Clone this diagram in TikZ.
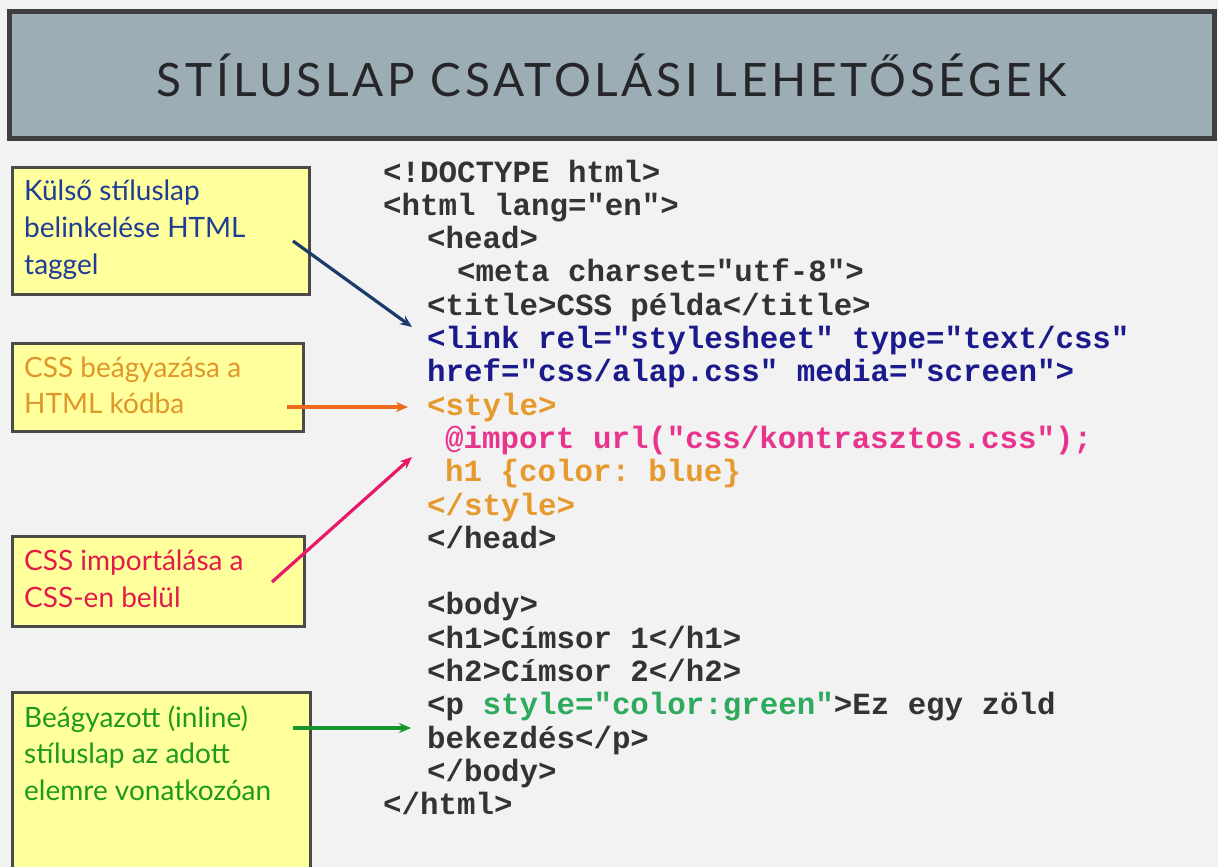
\documentclass[tikz,border=0pt]{standalone}
\usepackage{fontspec}
\setmainfont{Lato}
\newfontfamily\codefont{Liberation Mono}[BoldFont={* Bold}]
\newfontfamily\titlefont{Lato}[LetterSpace=8]
\usetikzlibrary{arrows.meta}
\frenchspacing
\definecolor{bgc}{HTML}{F2F2F2}
\definecolor{titlefill}{HTML}{9DADB5}
\definecolor{titleborder}{HTML}{3F3F3F}
\definecolor{titletext}{HTML}{26262A}
\definecolor{boxfill}{HTML}{FFFF9C}
\definecolor{boxborder}{HTML}{4A4A4A}
\definecolor{lblue}{HTML}{1F3C96}
\definecolor{lorange}{HTML}{E0962A}
\definecolor{lred}{HTML}{E21B4B}
\definecolor{lgreen}{HTML}{1E9A1E}
\definecolor{codedark}{HTML}{333333}
\definecolor{codenavy}{HTML}{1A1A8C}
\definecolor{codeorange}{HTML}{E69A2E}
\definecolor{codepink}{HTML}{E8348C}
\definecolor{codegreen}{HTML}{2EAA5E}
\definecolor{arrnavy}{HTML}{1B3B6B}
\definecolor{arrorange}{HTML}{EE6A1A}
\definecolor{arrpink}{HTML}{E8186A}
\definecolor{arrgreen}{HTML}{16962A}
\tikzset{
  labelbox/.style={draw=boxborder, line width=3pt, fill=boxfill, anchor=north west, inner sep=0pt},
  lbltext/.style={anchor=base west, inner sep=0pt, font=\fontsize{28}{32}\selectfont},
  codeline/.style={anchor=base west, inner sep=0pt, font=\codefont\bfseries\fontsize{30.8}{33}\selectfont, text=codedark},
  pointer/.style={line width=3.2pt, -{Stealth[length=12pt,width=10pt]}},
}
\begin{document}
\begin{tikzpicture}[x=1pt,y=-1pt]
\useasboundingbox (0,0) rectangle (1218,867);
\fill[bgc] (0,0) rectangle (1218,867);
% title
\node[draw=titleborder, line width=5pt, fill=titlefill, anchor=north west, minimum width=1205pt, minimum height=126pt, inner sep=0pt] (titlebox) at (6.5,9.5) {};
\node[inner sep=0pt, text=titletext, font=\titlefont\fontsize{46}{50}\selectfont] (title) at (titlebox.center) {STÍLUSLAP CSATOLÁSI LEHETŐSÉGEK};
% label boxes
\node[labelbox, minimum width=297pt, minimum height=127pt] (b1) at (10.5,165.5) {};
\node[lbltext, text=lblue] (t1a) at (24,200) {Külső stíluslap};
\node[lbltext, text=lblue] (t1b) at (24,237) {belinkelése HTML};
\node[lbltext, text=lblue] (t1c) at (24,274) {taggel};
\node[labelbox, minimum width=291pt, minimum height=88pt] (b2) at (10.5,341.5) {};
\node[lbltext, text=lorange] (t2a) at (24,377) {CSS beágyazása a};
\node[lbltext, text=lorange] (t2b) at (24,413) {HTML kódba};
\node[labelbox, minimum width=292pt, minimum height=90pt] (b3) at (10.5,534.5) {};
\node[lbltext, text=lred] (t3a) at (24,570) {CSS importálása a};
\node[lbltext, text=lred] (t3b) at (24,607) {CSS-en belül};
\node[labelbox, minimum width=298pt, minimum height=190pt] (b4) at (10.5,690.5) {};
\node[lbltext, text=lgreen] (t4a) at (24,727) {Beágyazott (inline)};
\node[lbltext, text=lgreen] (t4b) at (24,763) {stíluslap az adott};
\node[lbltext, text=lgreen] (t4c) at (24,800) {elemre vonatkozóan};
% code
\def\lh{33.3}
\node[codeline] (c0) at (383,182) {<!DOCTYPE html>};
\node[codeline] (c1) at (383,{182+\lh}) {<html lang="en">};
\node[codeline] (c2) at (427,{182+2*\lh}) {<head>};
\node[codeline] (c3) at (457,{182+3*\lh}) {<meta charset="utf-8">};
\node[codeline] (c4) at (427,{182+4*\lh}) {<title>CSS példa</title>};
\node[codeline, text=codenavy] (c5) at (427,{182+5*\lh}) {<link rel="stylesheet" type="text/css"};
\node[codeline, text=codenavy] (c6) at (427,{182+6*\lh}) {href="css/alap.css" media="screen">};
\node[codeline, text=codeorange] (c7) at (427,{182+7*\lh}) {<style>};
\node[codeline, text=codepink] (c8) at (445,{182+8*\lh}) {@import url("css/kontrasztos.css");};
\node[codeline, text=codeorange] (c9) at (445,{182+9*\lh}) {h1 \{color: blue\}};
\node[codeline, text=codeorange] (c10) at (427,{182+10*\lh}) {</style>};
\node[codeline] (c11) at (427,{182+11*\lh}) {</head>};
\node[codeline] (c13) at (427,{182+13*\lh}) {<body>};
\node[codeline] (c14) at (427,{182+14*\lh}) {<h1>Címsor 1</h1>};
\node[codeline] (c15) at (427,{182+15*\lh}) {<h2>Címsor 2</h2>};
\node[codeline] (c16) at (427,{182+16*\lh}) {<p \textcolor{codegreen}{style="color:green"}>Ez egy zöld};
\node[codeline] (c17) at (427,{182+17*\lh}) {bekezdés</p>};
\node[codeline] (c18) at (427,{182+18*\lh}) {</body>};
\node[codeline] (c19) at (383,{182+19*\lh}) {</html>};
% arrows
\coordinate (a1s) at (293,241);
\coordinate (a1e) at (412,327);
\coordinate (a2s) at (287,407);
\coordinate (a2e) at (408,407);
\coordinate (a3s) at (272,582);
\coordinate (a3e) at (412,457);
\coordinate (a4s) at (293,728);
\coordinate (a4e) at (411,728);
\draw[pointer, arrnavy] (a1s) -- (a1e);
\draw[pointer, arrorange] (a2s) -- (a2e);
\draw[pointer, arrpink] (a3s) -- (a3e);
\draw[pointer, arrgreen] (a4s) -- (a4e);
\end{tikzpicture}
\end{document}
